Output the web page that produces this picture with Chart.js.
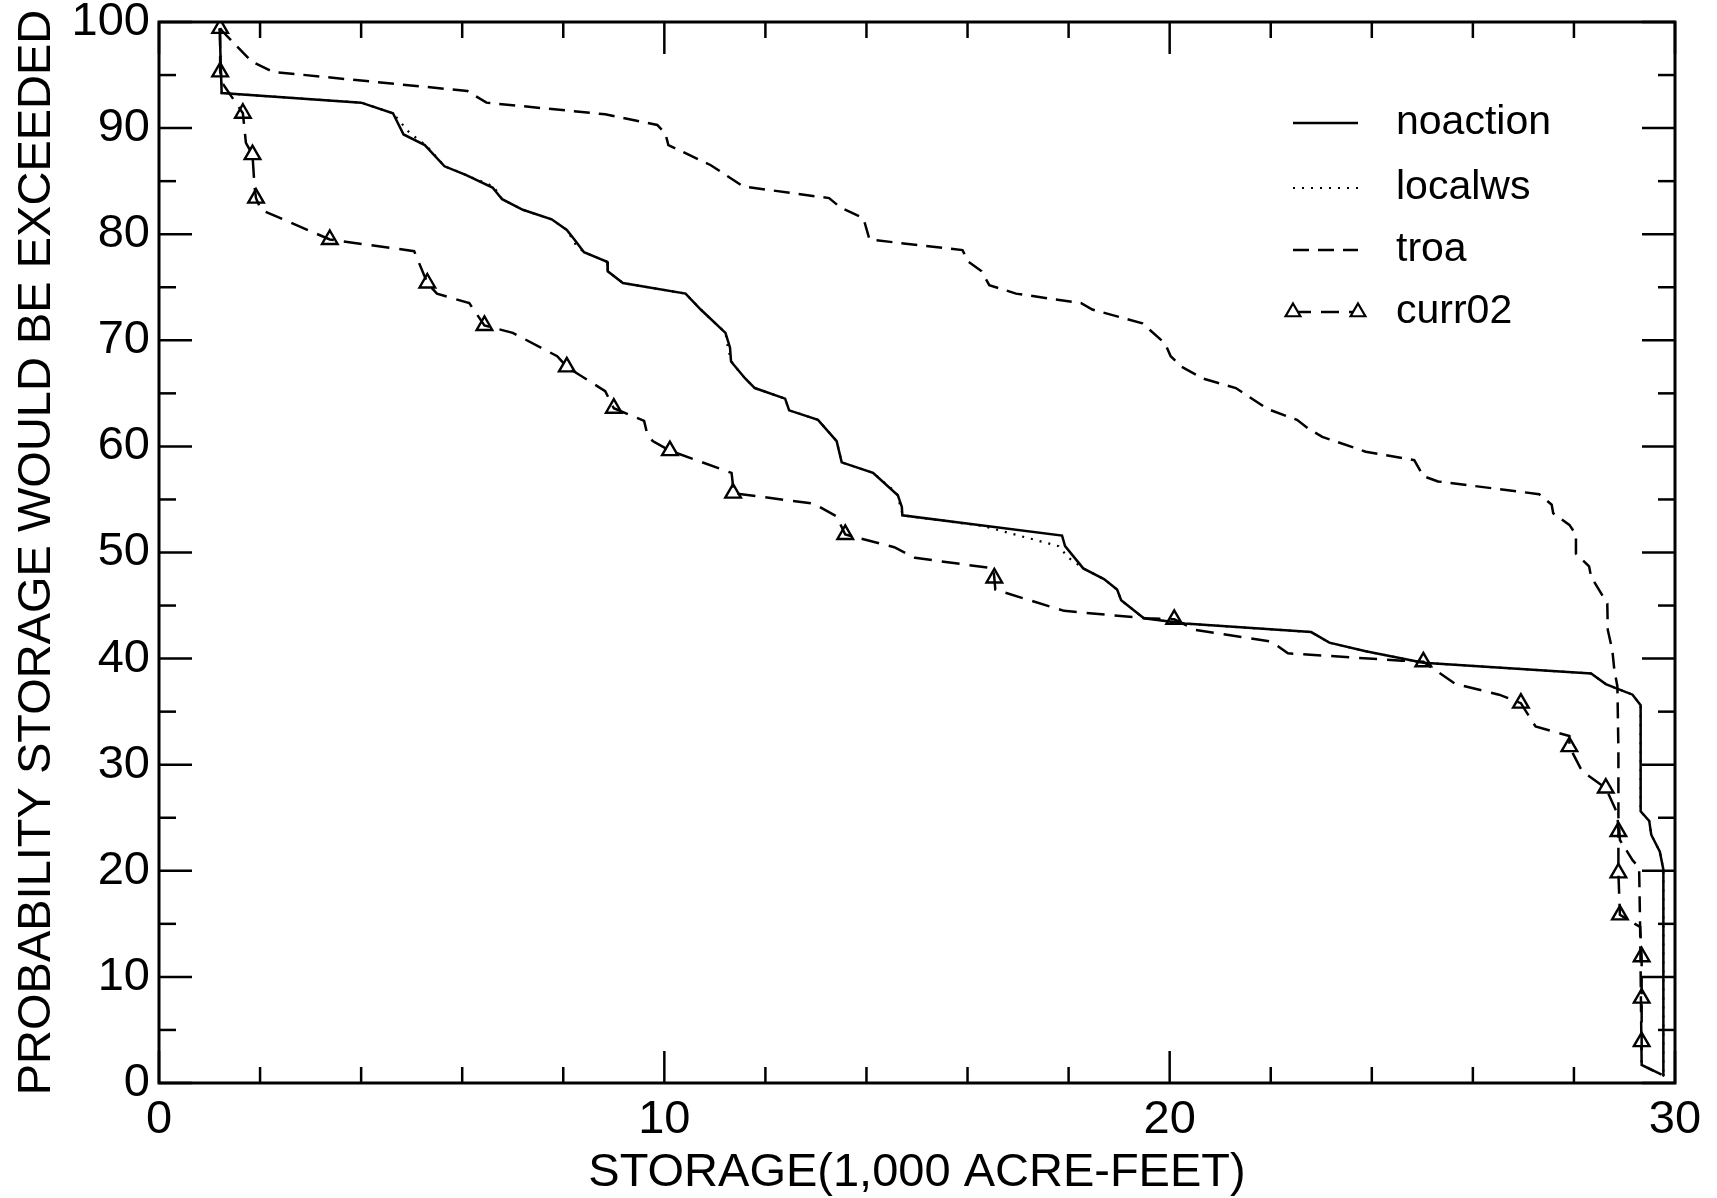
<!DOCTYPE html>
<html>
<head>
<meta charset="utf-8">
<script src="https://cdn.jsdelivr.net/npm/chart.js@4.4.1/dist/chart.umd.min.js"></script>
<style>
  html, body { margin: 0; padding: 0; background: #fff; }
  #wrap { width: 1717px; height: 1198px; }
</style>
</head>
<body>
<div id="wrap"><canvas id="storageChart"></canvas></div>
<script>
// storage (1,000 acre-feet) vs probability storage would be exceeded (%)
const seriesNames = ['noaction', 'localws', 'troa', 'curr02'];

const noactionX = [1.20, 1.24, 4.00, 4.63, 4.84, 5.26, 5.65, 6.07, 6.60, 6.79, 7.20, 7.77, 8.07, 8.22, 8.41, 8.87, 8.88, 9.18,
  10.42, 10.72, 11.21, 11.30, 11.32, 11.60, 11.79, 12.39, 12.47, 13.04, 13.41, 13.51, 14.13, 14.62, 14.70, 14.71,
  17.87, 17.93, 18.29, 18.70, 18.96, 19.04, 19.49, 20.30, 22.80, 23.16, 23.88, 25.02, 28.34, 28.63, 29.16, 29.32,
  29.32, 29.49, 29.53, 29.70, 29.77, 29.77];
const noactionY = [99.4, 93.3, 92.4, 91.4, 89.4, 88.4, 86.4, 85.6, 84.4, 83.3, 82.3, 81.4, 80.4, 79.5, 78.3, 77.4, 76.5, 75.4,
  74.4, 72.9, 70.7, 69.3, 68.0, 66.4, 65.5, 64.5, 63.4, 62.5, 60.5, 58.5, 57.5, 55.4, 54.3, 53.5,
  51.6, 50.6, 48.5, 47.5, 46.5, 45.5, 43.8, 43.3, 42.5, 41.5, 40.7, 39.6, 38.6, 37.6, 36.6, 35.6,
  25.6, 24.7, 23.4, 21.8, 20.1, 0.66];

const localwsX = [1.20, 1.24, 4.00, 4.63, 4.95, 5.30, 5.65, 6.07, 6.62, 6.79, 7.20, 7.77, 8.07, 8.25, 8.41, 8.87, 8.88, 9.18,
  10.42, 10.72, 11.21, 11.27, 11.35, 11.60, 11.79, 12.39, 12.47, 13.04, 13.41, 13.51, 14.13, 14.60, 14.72,
  16.30, 17.80, 18.00, 18.29, 18.70, 18.96, 19.04, 19.49, 20.30, 22.80, 23.16, 23.88, 25.02, 28.34, 28.63, 29.16, 29.32,
  29.32, 29.49, 29.53, 29.70, 29.77, 29.77];
const localwsY = [99.4, 93.3, 92.4, 91.4, 89.6, 88.3, 86.4, 85.6, 84.5, 83.3, 82.3, 81.4, 80.4, 79.0, 78.3, 77.4, 76.5, 75.4,
  74.4, 72.9, 70.7, 69.0, 67.8, 66.4, 65.5, 64.5, 63.4, 62.5, 60.5, 58.5, 57.5, 55.6, 53.5,
  52.5, 50.6, 49.5, 48.5, 47.5, 46.5, 45.5, 43.8, 43.3, 42.5, 41.5, 40.7, 39.6, 38.6, 37.6, 36.6, 35.6,
  25.6, 24.7, 23.4, 21.8, 20.1, 0.66];

const troaX = [1.21, 1.26, 1.83, 2.25, 6.10, 6.48, 8.83, 9.86, 10.02, 10.08, 10.92, 11.56, 13.26, 13.49, 13.94, 14.06,
  15.90, 16.02, 16.28, 16.43, 16.96, 18.25, 18.47, 19.46, 19.91, 20.02, 20.24, 20.66, 21.31, 21.66, 21.95, 22.52,
  22.74, 23.02, 23.88, 24.84, 25.02, 25.31, 27.31, 27.56, 27.59, 27.91, 28.04, 28.04, 28.30, 28.34, 28.66, 28.67,
  28.76, 28.80, 28.86, 28.88, 28.88, 28.91, 29.16, 29.29, 29.31, 29.34, 29.79];
const troaY = [99.4, 99.1, 96.3, 95.3, 93.5, 92.4, 91.3, 90.3, 89.5, 88.4, 86.5, 84.5, 83.4, 82.5, 81.5, 79.5,
  78.5, 77.4, 76.5, 75.2, 74.4, 73.5, 72.9, 71.6, 69.7, 68.5, 67.5, 66.4, 65.5, 64.4, 63.5, 62.5,
  61.7, 60.9, 59.5, 58.7, 57.2, 56.7, 55.5, 54.5, 53.7, 52.6, 51.7, 49.9, 48.7, 47.7, 45.2, 42.7,
  40.8, 38.9, 37.4, 31.4, 25.1, 22.9, 21.0, 20.3, 14.7, 1.7, 0.66];

const curr02X = [1.21, 1.21, 1.26, 1.66, 1.72, 1.85, 1.89, 1.92, 2.02, 3.38, 5.05, 5.31, 5.50, 6.14, 6.44, 7.00, 7.88,
  8.07, 8.30, 8.83, 9.00, 9.60, 9.66, 9.77, 10.11, 11.33, 11.35, 11.36, 12.96, 13.41, 13.58, 14.55, 14.96, 16.51,
  16.53, 16.55, 17.91, 19.53, 20.09, 20.52, 22.02, 22.34, 24.60, 25.02, 25.66, 26.52, 26.95, 27.24, 27.91, 27.91,
  28.16, 28.63, 28.86, 28.88, 28.88, 28.91, 29.31, 29.34, 29.34, 29.34, 29.34, 29.79];
const curr02Y = [99.4, 95.3, 94.2, 91.4, 88.6, 87.5, 84.5, 83.4, 82.3, 79.5, 78.4, 75.4, 74.4, 73.5, 71.4, 70.7, 68.5,
  67.5, 66.8, 65.2, 63.6, 62.4, 61.2, 60.5, 59.6, 57.5, 56.7, 55.6, 54.6, 53.4, 51.7, 50.5, 49.5, 48.5,
  47.6, 46.5, 44.5, 43.8, 43.7, 42.7, 41.6, 40.5, 39.8, 39.7, 37.6, 36.6, 35.8, 33.6, 32.7, 31.7,
  29.4, 27.8, 25.4, 23.7, 19.8, 15.85, 14.7, 11.9, 8.0, 3.9, 1.7, 0.66];
// points of curr02 that carry a triangle symbol
const curr02Marked = [0, 1, 3, 5, 7, 9, 11, 14, 17, 20, 24, 27, 30, 34, 38, 43, 46, 49, 51, 53, 54, 55, 57, 58, 59];

const xMajorTicks = [0, 10, 20, 30];
const xMinorTicks = [2, 4, 6, 8, 12, 14, 16, 18, 22, 24, 26, 28];
const yMajorTicks = [0, 10, 20, 30, 40, 50, 60, 70, 80, 90, 100];
const yMinorTicks = [5, 15, 25, 35, 45, 55, 65, 75, 85, 95];

const toPoints = (xs, ys) => xs.map((x, i) => ({ x: x, y: ys[i] }));

Chart.defaults.font.family = '"Liberation Sans", Arial, sans-serif';
Chart.defaults.color = '#000';

const frameTicks = {
  id: 'frameTicks',
  afterDatasetsDraw(chart) {
    const { ctx, chartArea: a, scales: { x, y } } = chart;
    ctx.save();
    ctx.strokeStyle = '#000';
    ctx.lineWidth = 2.5;
    const seg = (x1, y1, x2, y2) => { ctx.beginPath(); ctx.moveTo(x1, y1); ctx.lineTo(x2, y2); ctx.stroke(); };
    xMajorTicks.forEach(v => { const p = x.getPixelForValue(v); seg(p, a.bottom, p, a.bottom - 32); seg(p, a.top, p, a.top + 32); });
    xMinorTicks.forEach(v => { const p = x.getPixelForValue(v); seg(p, a.bottom, p, a.bottom - 16); seg(p, a.top, p, a.top + 16); });
    yMajorTicks.forEach(v => { const p = y.getPixelForValue(v); seg(a.left, p, a.left + 33, p); seg(a.right, p, a.right - 33, p); });
    yMinorTicks.forEach(v => { const p = y.getPixelForValue(v); seg(a.left, p, a.left + 17, p); seg(a.right, p, a.right - 17, p); });
    ctx.lineWidth = 3;
    ctx.strokeRect(a.left, a.top, a.right - a.left, a.bottom - a.top);
    ctx.restore();
  }
};

// legend drawn inside the plot, upper right
const innerLegend = {
  id: 'innerLegend',
  afterDraw(chart) {
    const ctx = chart.ctx;
    const rows = [123, 188, 250, 312];
    const x0 = 1293, x1 = 1358, tx = 1396;
    ctx.save();
    chart.data.datasets.forEach((ds, i) => {
      const yy = rows[i];
      ctx.strokeStyle = '#000';
      ctx.lineWidth = ds.borderWidth;
      ctx.setLineDash(ds.borderDash || []);
      ctx.beginPath();
      ctx.moveTo(x0, yy);
      ctx.lineTo(x1, yy);
      ctx.stroke();
      ctx.setLineDash([]);
      if (ds.label === 'curr02') {
        [x0, x1].forEach(px => {
          const r = 8.5;
          ctx.beginPath();
          ctx.moveTo(px, yy - r);
          ctx.lineTo(px + r * 0.87, yy + r * 0.5);
          ctx.lineTo(px - r * 0.87, yy + r * 0.5);
          ctx.closePath();
          ctx.fillStyle = '#fff';
          ctx.fill();
          ctx.lineWidth = 2.2;
          ctx.stroke();
        });
      }
      ctx.fillStyle = '#000';
      ctx.font = '41px "Liberation Sans", Arial, sans-serif';
      ctx.textBaseline = 'middle';
      ctx.fillText(ds.label, tx, yy);
    });
    ctx.restore();
  }
};

new Chart(document.getElementById('storageChart'), {
  type: 'scatter',
  data: {
    datasets: [
      {
        label: seriesNames[0],
        data: toPoints(noactionX, noactionY),
        showLine: true, borderColor: '#000', borderWidth: 2.5, pointRadius: 0, tension: 0
      },
      {
        label: seriesNames[1],
        data: toPoints(localwsX, localwsY),
        showLine: true, borderColor: '#000', borderWidth: 2.2, borderDash: [2, 7], pointRadius: 0, tension: 0
      },
      {
        label: seriesNames[2],
        data: toPoints(troaX, troaY),
        showLine: true, borderColor: '#000', borderWidth: 2.5, borderDash: [16, 9], pointRadius: 0, tension: 0
      },
      {
        label: seriesNames[3],
        data: toPoints(curr02X, curr02Y),
        showLine: true, borderColor: '#000', borderWidth: 2.5, borderDash: [18, 10], tension: 0,
        pointStyle: 'triangle',
        pointRadius: c => curr02Marked.includes(c.dataIndex) ? 9 : 0,
        pointBorderWidth: 2.4,
        pointBorderColor: '#000',
        pointBackgroundColor: 'rgba(255,255,255,0)'
      }
    ]
  },
  options: {
    responsive: true,
    maintainAspectRatio: false,
    animation: false,
    layout: { padding: { top: 22, right: 42, left: 0, bottom: 0 } },
    plugins: { legend: { display: false }, tooltip: { enabled: false } },
    scales: {
      x: {
        type: 'linear', min: 0, max: 30,
        afterBuildTicks: s => { s.ticks = xMajorTicks.map(v => ({ value: v })); },
        afterFit: s => { s.height = 115; s.paddingLeft = 0; s.paddingRight = 0; },
        grid: { display: false, drawTicks: false },
        border: { display: false },
        ticks: { font: { size: 47 }, padding: 9, maxRotation: 0 },
        title: {
          display: true, text: 'STORAGE(1,000 ACRE-FEET)',
          font: { size: 47, lineHeight: 1 }, padding: { top: 0, bottom: 1 }
        }
      },
      y: {
        type: 'linear', min: 0, max: 100,
        afterBuildTicks: s => { s.ticks = yMajorTicks.map(v => ({ value: v })); },
        afterFit: s => { s.width = 159; s.paddingTop = 0; s.paddingBottom = 0; },
        grid: { display: false, drawTicks: false },
        border: { display: false },
        ticks: { font: { size: 47 }, padding: 9 },
        title: {
          display: true, text: 'PROBABILITY STORAGE WOULD BE EXCEEDED',
          font: { size: 47, lineHeight: 1 }, padding: { top: 14, bottom: 0 }
        }
      }
    }
  },
  plugins: [frameTicks, innerLegend]
});
</script>
</body>
</html>
